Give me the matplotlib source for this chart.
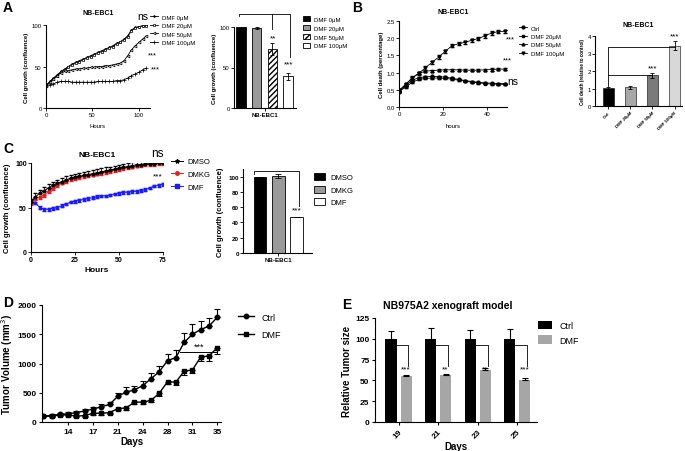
import matplotlib
matplotlib.use("Agg")
import matplotlib.pyplot as plt
import numpy as np
from matplotlib.patches import Patch
from matplotlib.lines import Line2D

plt.rcParams['font.family'] = ['Liberation Sans', 'DejaVu Sans']
plt.rcParams['axes.linewidth'] = 0.8

W, H = 685, 452
fig = plt.figure(figsize=(W/100, H/100), dpi=100)

def ax_px(l, t, r, b):
    return fig.add_axes([l/W, 1-b/H, (r-l)/W, (b-t)/H])

def clean(ax):
    ax.spines['top'].set_visible(False)
    ax.spines['right'].set_visible(False)

# ---------------- DATA ----------------
# Panel A (line)
a_hours = [0, 4, 8, 12, 16, 20, 24, 28, 32, 36, 40, 44, 48, 52, 56, 60, 64, 68, 72, 76, 80, 84, 88, 92, 96, 100, 104, 108]
a_dmf0 = [27, 32, 36, 40, 44, 47, 50, 53, 55, 57, 59, 61, 63, 65, 67, 69, 71, 73, 75, 78, 80, 83, 87, 94, 97, 98, 99, 100]
a_dmf20 = [27, 31, 35, 39, 43, 46, 49, 52, 54, 56, 58, 60, 62, 64, 66, 68, 70, 72, 74, 77, 79, 82, 86, 93, 96, 98, 99, 99]
a_dmf50 = [27, 31, 35, 39, 42, 44, 45, 46, 47, 47, 48, 48, 49, 49, 50, 50, 51, 51, 52, 53, 54, 57, 63, 70, 75, 79, 83, 87]
a_dmf100 = [27, 28, 29, 31, 32, 32, 32, 31, 31, 31, 31, 31, 31, 31, 32, 32, 32, 32, 32, 33, 33, 34, 36, 39, 41, 43, 46, 48]
a_series = ['DMF 0μM', 'DMF 20μM', 'DMF 50μM', 'DMF 100μM']

# Panel A (bar)
a_bar_vals = [100, 99, 73, 39]
a_bar_err = [1, 1.5, 7, 4]

# Panel B (line)
b_hours = [0, 3, 6, 9, 12, 15, 18, 21, 24, 27, 30, 33, 36, 39, 42, 45, 48]
b_ctrl = [0.45, 0.62, 0.78, 0.85, 0.88, 0.89, 0.88, 0.87, 0.84, 0.80, 0.77, 0.74, 0.72, 0.70, 0.69, 0.68, 0.68]
b_dmf20 = [0.45, 0.58, 0.72, 0.80, 0.83, 0.84, 0.84, 0.83, 0.81, 0.78, 0.75, 0.72, 0.70, 0.68, 0.67, 0.66, 0.66]
b_dmf50 = [0.46, 0.65, 0.85, 0.98, 1.04, 1.06, 1.07, 1.08, 1.08, 1.08, 1.07, 1.07, 1.07, 1.08, 1.09, 1.10, 1.10]
b_dmf100 = [0.48, 0.66, 0.84, 0.98, 1.14, 1.30, 1.45, 1.62, 1.78, 1.84, 1.88, 1.94, 1.99, 2.07, 2.15, 2.19, 2.20]
b_series = ['Ctrl', 'DMF 20μM', 'DMF 50μM', 'DMF 100μM']

# Panel B (bar)
b_bar_labels = ['Ctrl', 'DMF 20μM', 'DMF 50μM', 'DMF 100μM']
b_bar_vals = [1.02, 1.08, 1.75, 3.45]
b_bar_err = [0.08, 0.09, 0.16, 0.25]

# Panel C (line)
c_hours = [0, 2.5, 5, 7.5, 10, 12.5, 15, 17.5, 20, 22.5, 25, 27.5, 30, 32.5, 35, 37.5, 40, 42.5, 45, 47.5,
           50, 52.5, 55, 57.5, 60, 62.5, 65, 67.5, 70, 72.5, 75]
c_dmso = [56, 62, 66, 69, 72, 75, 77, 79, 81, 83, 84, 85, 86, 87, 88, 89, 90, 91, 92, 93,
          94, 95, 96, 97, 98, 98, 99, 99, 99, 100, 100]
c_dmkg = [55, 60, 62, 64, 68, 72, 75, 78, 80, 82, 83, 84, 85, 86, 87, 88, 89, 90, 91, 92,
          93, 94, 95, 96, 97, 98, 99, 99, 99, 100, 100]
c_dmf = [56, 55, 50, 48, 48, 49, 50, 52, 54, 56, 57, 58, 59, 60, 61, 62, 63, 63, 64, 65,
         66, 67, 67, 68, 68, 69, 70, 72, 74, 75, 76]
c_series = ['DMSO', 'DMKG', 'DMF']

# Panel C (bar)
c_bar_vals = [100, 101, 47]
c_bar_err = [0, 3, 0]

# Panel D
d_ctrl = [100, 110, 130, 140, 160, 190, 220, 260, 300, 440, 510, 550, 620, 740, 860, 1050, 1100, 1360, 1500, 1580, 1640, 1790]
d_ctrl_err = [20, 25, 30, 30, 35, 35, 40, 40, 40, 50, 90, 60, 80, 100, 100, 110, 130, 160, 180, 150, 140, 150]
d_dmf = [100, 100, 120, 120, 100, 110, 150, 150, 160, 230, 240, 340, 340, 370, 490, 690, 680, 870, 890, 1110, 1130, 1270]
d_dmf_err = [20, 20, 25, 25, 20, 25, 30, 30, 30, 30, 30, 30, 30, 30, 40, 40, 50, 70, 50, 60, 90, 110]
d_tick_labels = ['14', '17', '21', '24', '28', '31', '35']

# Panel E
e_days = ['19', '21', '23', '25']
e_ctrl = [100, 100, 100, 100]
e_ctrl_err = [9, 13, 11, 12]
e_dmf = [55, 56, 63, 51]
e_dmf_err = [2, 2, 2, 2]
e_stars = ['***', '**', '**', '***']

# ---------------- PANEL LETTERS ----------------
for lab, x, y in [('A', 3, 12), ('B', 352, 12), ('C', 3, 153), ('D', 3, 307), ('E', 342, 309)]:
    fig.text(x/W, 1-y/H, lab, fontsize=10, fontweight='bold', ha='left', va='baseline')

small = 4.3

# ---------------- PANEL A line ----------------
ax = ax_px(46, 26, 150, 109)
clean(ax)
mk = [dict(marker='.', ms=2.5, mfc='black'), dict(marker='s', ms=1.8, mfc='white'),
      dict(marker='<', ms=2, mfc='white'), dict(marker='+', ms=2.5)]
for vals, lab, m in zip([a_dmf0, a_dmf20, a_dmf50, a_dmf100], a_series, mk):
    ax.errorbar(a_hours, vals, yerr=[0]*len(vals), color='black', lw=0.6, mew=0.5, label=lab, **m)
ax.set_xlim(0, 112)
ax.set_ylim(0, 100)
ax.set_xticks([0, 50, 100])
ax.set_yticks([0, 50, 100])
ax.tick_params(labelsize=small, length=2, width=0.6, pad=1)
ax.set_xlabel('Hours', fontsize=small, labelpad=4)
ax.set_ylabel('Cell growth (confluence)', fontsize=small, fontweight='bold', labelpad=2)
ax.set_title('NB-EBC1', fontsize=5, fontweight='bold', pad=8)
fig.text(137/W, 1-20/H, 'ns', fontsize=7.5, ha='left', va='baseline')
ax.text(110, 64, '***', fontsize=small+1, ha='left', va='center', clip_on=False)
ax.text(113, 47, '***', fontsize=small+1, ha='left', va='center', clip_on=False)
handles = [Line2D([], [], color='black', lw=0.6, mew=0.5, **m) for m in mk]
fig.legend(handles, a_series, loc='upper left', bbox_to_anchor=(148/W, 1-13/H), frameon=False,
           fontsize=small, handlelength=1.3, handletextpad=0.6, labelspacing=0.55, borderaxespad=0)

# ---------------- PANEL A bar ----------------
ax = ax_px(234, 28, 296, 109)
clean(ax)
xa = np.arange(4)
fcs = ['black', '#9a9a9a', 'white', 'white']
hat = [None, None, '//////', None]
for i in range(4):
    ax.bar(xa[i], a_bar_vals[i], width=0.6, color=fcs[i], edgecolor='black', lw=0.6,
           hatch=hat[i], yerr=a_bar_err[i], error_kw=dict(lw=0.6, capsize=1.5, capthick=0.6))
ax.set_xlim(-0.45, 3.5)
ax.set_ylim(0, 100)
ax.set_yticks([0, 50, 100])
ax.set_xticks([1.5])
ax.set_xticklabels(['NB-EBC1'], fontweight='bold')
ax.tick_params(labelsize=small, length=2, width=0.6, pad=1)
ax.set_ylabel('Cell growth (confluence)', fontsize=small, fontweight='bold', labelpad=2)
yb = 116
ax.plot([-0.1, -0.1, 3.1, 3.1], [113, yb, yb, 63], color='black', lw=0.6, clip_on=False)
ax.plot([2.0, 2.0], [yb, 97], color='black', lw=0.6, clip_on=False)
ax.text(2.0, 86, '**', fontsize=small+1.5, ha='center', va='center')
ax.text(3.0, 55, '***', fontsize=small+1.5, ha='center', va='center')
handles = [Patch(facecolor=fcs[i], edgecolor='black', lw=0.6, hatch=hat[i]) for i in range(4)]
fig.legend(handles, a_series, loc='upper left', bbox_to_anchor=(301/W, 1-15/H), frameon=False,
           fontsize=small, handlelength=1.1, handleheight=0.9, handletextpad=0.6, labelspacing=0.55, borderaxespad=0)

# ---------------- PANEL B line ----------------
ax = ax_px(399, 22, 507, 108)
clean(ax)
bmk = ['o', 's', '^', 'v']
berr = [0.02, 0.02, 0.03, 0.05]
for vals, lab, m, e in zip([b_ctrl, b_dmf20, b_dmf50, b_dmf100], b_series, bmk, berr):
    ax.errorbar(b_hours, vals, yerr=[e]*len(vals), color='black', lw=0.6, marker=m, ms=2,
                capsize=1.2, elinewidth=0.6, label=lab)
ax.set_xlim(0, 49)
ax.set_ylim(0, 2.5)
ax.set_xticks([0, 20, 40])
ax.set_yticks([0.0, 0.5, 1.0, 1.5, 2.0, 2.5])
ax.yaxis.set_major_formatter(matplotlib.ticker.FormatStrFormatter('%.1f'))
ax.tick_params(labelsize=small, length=2, width=0.6, pad=1)
ax.set_xlabel('hours', fontsize=small, labelpad=5)
ax.set_ylabel('Cell death (percentage)', fontsize=small, fontweight='bold', labelpad=2)
ax.set_title('NB-EBC1', fontsize=5, fontweight='bold', pad=6)
ax.text(48.5, 1.97, '***', fontsize=small+1, ha='left', va='center', clip_on=False)
ax.text(47, 1.37, '***', fontsize=small+1, ha='left', va='center', clip_on=False)
ax.text(49, 0.75, 'ns', fontsize=7.5, ha='left', va='center', clip_on=False)
handles = [Line2D([], [], color='black', lw=0.6, marker=m, ms=2) for m in bmk]
fig.legend(handles, b_series, loc='upper left', bbox_to_anchor=(517/W, 1-24/H), frameon=False,
           fontsize=small, handlelength=1.3, handletextpad=0.6, labelspacing=0.55, borderaxespad=0)

# ---------------- PANEL B bar ----------------
ax = ax_px(595, 37, 682, 107)
clean(ax)
xb = np.arange(4)
bcols = ['black', '#a8a8a8', '#7a7a7a', '#d8d8d8']
ax.bar(xb, b_bar_vals, width=0.5, color=bcols, edgecolor='black', lw=0.4,
       yerr=b_bar_err, error_kw=dict(lw=0.6, capsize=1.5, capthick=0.6))
ax.set_xlim(-0.61, 3.34)
ax.set_ylim(0, 4)
ax.set_yticks([0, 1, 2, 3, 4])
ax.set_xticks(xb)
ax.set_xticklabels(b_bar_labels, rotation=45, ha='right', rotation_mode='anchor', fontweight='bold')
ax.tick_params(labelsize=3.2, length=2, width=0.6, pad=1)
ax.tick_params(axis='y', labelsize=small)
ax.set_ylabel('Cell death (relative to control)', fontsize=3.3, fontweight='bold', labelpad=2)
ax.set_title('NB-EBC1', fontsize=5, fontweight='bold', pad=7)
ax.plot([0, 0, 3], [1.12, 3.37, 3.37], color='black', lw=0.6)
ax.plot([0, 2], [1.75, 1.75], color='black', lw=0.6)
ax.text(2, 2.2, '***', fontsize=small+1.5, ha='center', va='center')
ax.text(3, 4.0, '***', fontsize=small+1.5, ha='center', va='center', clip_on=False)

# ---------------- PANEL C line ----------------
ax = ax_px(31, 164, 163, 253)
clean(ax)
ax.errorbar(c_hours, c_dmso, yerr=[[0]*len(c_dmso), [4]*len(c_dmso)], color='black', lw=0.7,
            marker='*', ms=2.5, capsize=1.2, elinewidth=0.5, zorder=3, label='DMSO')
ax.errorbar(c_hours, c_dmkg, yerr=[[2]*len(c_dmkg), [0]*len(c_dmkg)], color='#e02020', lw=0.7,
            marker='o', ms=2, capsize=1.2, elinewidth=0.5, zorder=2, label='DMKG')
ax.errorbar(c_hours, c_dmf, yerr=[1.5]*len(c_dmf), color='#1a1aff', lw=0.7,
            marker='s', ms=2, capsize=1.2, elinewidth=0.5, zorder=2, label='DMF')
ax.set_xlim(0, 75)
ax.set_ylim(0, 100)
ax.set_xticks([0, 25, 50, 75])
ax.set_yticks([0, 50, 100])
ax.tick_params(labelsize=5, length=2, width=0.6, pad=1)
for t in ax.get_xticklabels() + ax.get_yticklabels():
    t.set_fontweight('bold')
ax.set_xlabel('Hours', fontsize=6, fontweight='bold', labelpad=2)
ax.set_ylabel('Cell growth (confluence)', fontsize=5.5, fontweight='bold', labelpad=3)
ax.set_title('NB-EBC1', fontsize=6, fontweight='bold', pad=5)
ax.text(72, 104, 'ns', fontsize=8.5, ha='center', va='bottom', clip_on=False)
ax.text(72, 82, '***', fontsize=6, ha='center', va='bottom', clip_on=False)
handles = [Line2D([], [], color='black', lw=0.7, marker='*', ms=3),
           Line2D([], [], color='#e02020', lw=0.7, marker='o', ms=2.5),
           Line2D([], [], color='#1a1aff', lw=0.7, marker='s', ms=2.5)]
fig.legend(handles, c_series, loc='upper left', bbox_to_anchor=(168/W, 1-156/H), frameon=False,
           fontsize=5.5, handlelength=1.6, handletextpad=0.5, labelspacing=0.7, borderaxespad=0)

# ---------------- PANEL C bar ----------------
ax = ax_px(243, 170, 312, 254)
clean(ax)
xc = np.arange(3)
ccols = ['black', '#9a9a9a', 'white']
ax.bar(xc, c_bar_vals, width=0.7, color=ccols, edgecolor='black', lw=0.6,
       yerr=c_bar_err, error_kw=dict(lw=0.6, capsize=2, capthick=0.6))
ax.set_xlim(-0.93, 2.84)
ax.set_ylim(0, 110)
ax.set_yticks([0, 20, 40, 60, 80, 100])
ax.set_xticks([1])
ax.set_xticklabels(['NB-EBC1'], fontweight='bold')
ax.tick_params(labelsize=4.5, length=2, width=0.6, pad=1)
for t in ax.get_yticklabels():
    t.set_fontweight('bold')
ax.set_ylabel('Cell growth (confluence)', fontsize=5.5, fontweight='bold', labelpad=3)
ax.plot([-0.35, -0.35, 2.15, 2.15], [104, 108, 108, 62], color='black', lw=0.6, clip_on=False)
ax.text(2.0, 56, '***', fontsize=6, ha='center', va='center')
handles = [Patch(facecolor=c, edgecolor='black', lw=0.6) for c in ccols]
fig.legend(handles, c_series, loc='upper left', bbox_to_anchor=(311/W, 1-171/H), frameon=False,
           fontsize=5.5, handlelength=1.4, handleheight=1.0, handletextpad=0.7, labelspacing=0.6, borderaxespad=0)

# ---------------- PANEL D ----------------
ax = ax_px(42, 306, 221, 423)
clean(ax)
xd = np.arange(len(d_ctrl))
ax.errorbar(xd, d_ctrl, yerr=[[0]*len(d_ctrl), d_ctrl_err], color='black', lw=1.0, marker='o', ms=3.2,
            capsize=2, elinewidth=0.8, capthick=0.8, label='Ctrl')
ax.errorbar(xd, d_dmf, yerr=[d_dmf_err, [0]*len(d_dmf)], color='black', lw=1.0, marker='s', ms=3.2,
            capsize=2, elinewidth=0.8, capthick=0.8, label='DMF')
ax.set_xlim(-0.15, 21.45)
ax.set_ylim(0, 2000)
ax.set_xticks(np.arange(3, 22, 3))
ax.set_xticklabels(d_tick_labels)
ax.set_yticks([0, 500, 1000, 1500, 2000])
ax.tick_params(labelsize=6, length=2.5, width=0.8, pad=1.5)
for t in ax.get_xticklabels() + ax.get_yticklabels():
    t.set_fontweight('bold')
ax.set_xlabel('Days', fontsize=7, fontweight='bold', labelpad=1)
ax.set_ylabel('Tumor Volume (mm$^3$)', fontsize=7, fontweight='bold', labelpad=2)
ax.plot([16.5, 21], [1200, 1200], color='black', lw=0.7)
ax.text(18.8, 1220, '***', fontsize=6.5, ha='center', va='bottom')
handles = [Line2D([], [], color='black', lw=1.0, marker='o', ms=3.2),
           Line2D([], [], color='black', lw=1.0, marker='s', ms=3.2)]
fig.legend(handles, ['Ctrl', 'DMF'], loc='upper left', bbox_to_anchor=(234/W, 1-310/H), frameon=False,
           fontsize=6.5, handlelength=1.8, handletextpad=0.8, labelspacing=0.9, borderaxespad=0)

# ---------------- PANEL E ----------------
ax = ax_px(375, 319, 537, 423)
clean(ax)
xe = np.arange(len(e_days))
bw = 0.28
ax.bar(xe - 0.19, e_ctrl, width=bw, color='black', yerr=[[0]*4, e_ctrl_err],
       error_kw=dict(lw=0.8, capsize=2, capthick=0.8), label='Ctrl')
ax.bar(xe + 0.19, e_dmf, width=bw, color='#a6a6a6', yerr=[[0]*4, e_dmf_err],
       error_kw=dict(lw=0.8, capsize=2, capthick=0.8), label='DMF')
for i in range(4):
    ax.plot([xe[i] - 0.05, xe[i] + 0.25, xe[i] + 0.25], [92, 92, 67], color='black', lw=0.6)
    ax.text(xe[i] + 0.19, 64, e_stars[i], fontsize=6, ha='center', va='center')
ax.set_xlim(-0.595, 3.5)
ax.set_ylim(0, 125)
ax.set_yticks([0, 25, 50, 75, 100, 125])
ax.set_xticks(xe)
ax.set_xticklabels(e_days, rotation=45, ha='right', rotation_mode='anchor')
ax.tick_params(labelsize=6, length=2.5, width=0.8, pad=1.5)
for t in ax.get_xticklabels() + ax.get_yticklabels():
    t.set_fontweight('bold')
ax.set_xlabel('Days', fontsize=7, fontweight='bold', labelpad=1)
ax.set_ylabel('Relative Tumor size', fontsize=7, fontweight='bold', labelpad=2)
ax.set_title('NB975A2 xenograft model', fontsize=7.5, fontweight='bold', pad=7, loc='left', x=0.05)
handles = [Patch(facecolor='black'), Patch(facecolor='#a6a6a6')]
fig.legend(handles, ['Ctrl', 'DMF'], loc='upper left', bbox_to_anchor=(534/W, 1-318/H), frameon=False,
           fontsize=6.5, handlelength=1.6, handleheight=1.1, handletextpad=0.8, labelspacing=0.6, borderaxespad=0)

fig.savefig('out.png', dpi=100)
